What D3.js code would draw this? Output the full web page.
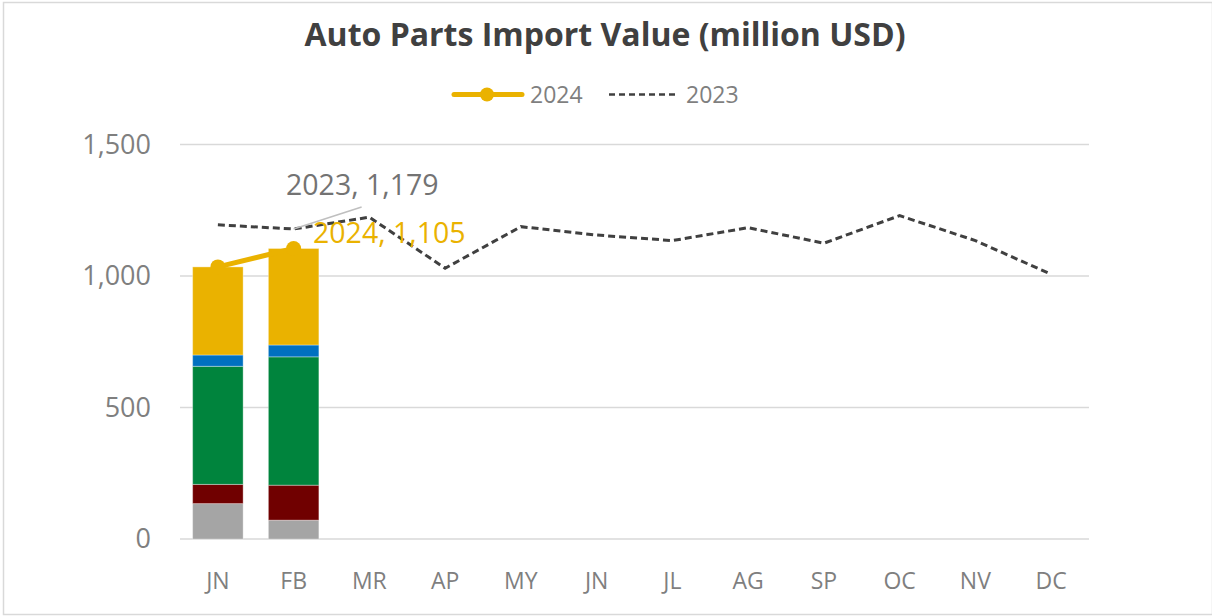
<!DOCTYPE html>
<html>
<head>
<meta charset="utf-8">
<script src="https://cdn.jsdelivr.net/npm/d3@7"></script>
<style>
  html, body { margin: 0; padding: 0; background: #fff; }
  svg { display: block; font-family: "Open Sans", sans-serif; }
</style>
</head>
<body>
<svg id="chart" width="1212" height="616"></svg>
<script>
// ---- data ----
const months = ["JN","FB","MR","AP","MY","JN","JL","AG","SP","OC","NV","DC"];
const segGrey   = [135, 72];
const segRed    = [73, 133];
const segGreen  = [449, 488];
const segBlue   = [43, 45];
const segYellow = [335, 367];
const values2024 = [1035, 1105];
const values2023 = [1195, 1179, 1224, 1030, 1188, 1156, 1135, 1184, 1125, 1230, 1135, 1007];
const yTicks = [0, 500, 1000, 1500];
const segNames = ["grey", "red", "green", "blue", "yellow"];
const segColors = ["#a5a5a5", "#700000", "#00843d", "#0070c0", "#eab200"];

const svg = d3.select("#chart");
const W = 1212, H = 616;

// outer border
svg.append("rect").attr("x", 3.5).attr("y", 2.5).attr("width", W - 3).attr("height", H - 4)
  .attr("fill", "#fff").attr("stroke", "#d9d9d9").attr("stroke-width", 1.5);

const x = d3.scaleBand().domain(months.map((d, i) => i)).range([180, 1089])
  .paddingInner(1/3).paddingOuter(1/6);
const y = d3.scaleLinear().domain([0, 1500]).range([539.1, 144.6]);
const cx = i => x(i) + x.bandwidth() / 2;

// gridlines
svg.append("g").selectAll("line").data(yTicks).join("line")
  .attr("x1", 180).attr("x2", 1089)
  .attr("y1", d => y(d)).attr("y2", d => y(d))
  .attr("stroke", "#d9d9d9").attr("stroke-width", 1.5);

// y axis labels
const yAxis = d3.axisLeft(y).tickValues(yTicks).tickSize(0).tickPadding(0)
  .tickFormat(d3.format(","));
const gy = svg.append("g").attr("transform", "translate(151,0)").call(yAxis);
gy.select(".domain").remove();
gy.selectAll("text").attr("font-size", 27).attr("fill", "#7f7f7f")
  .attr("font-family", "Open Sans, sans-serif");

// x axis labels
const xAxis = d3.axisBottom(x).tickSize(0).tickPadding(0).tickFormat(i => months[i]);
const gx = svg.append("g").attr("transform", "translate(0,573)").call(xAxis);
gx.select(".domain").remove();
gx.selectAll("text").attr("font-size", 23).attr("fill", "#7f7f7f")
  .attr("font-family", "Open Sans, sans-serif");

// stacked bars
const barRows = values2024.map((v, i) => ({
  idx: i, grey: segGrey[i], red: segRed[i], green: segGreen[i], blue: segBlue[i], yellow: segYellow[i]
}));
const stack = d3.stack().keys(segNames)(barRows);
svg.append("g").selectAll("g").data(stack).join("g")
  .attr("fill", (d, i) => segColors[i])
  .selectAll("rect").data(d => d).join("rect")
  .attr("x", d => x(d.data.idx))
  .attr("width", x.bandwidth())
  .attr("y", d => y(d[1]))
  .attr("height", d => y(d[0]) - y(d[1]))
  .attr("stroke", "#ffffff").attr("stroke-opacity", 0.35).attr("stroke-width", 1);

// 2023 dashed line
const line = d3.line().x((d, i) => cx(i)).y(d => y(d));
svg.append("path").datum(values2023).attr("d", line)
  .attr("fill", "none").attr("stroke", "#404040").attr("stroke-width", 3)
  .attr("stroke-dasharray", "7,4");

// 2024 line with markers
const gold = "#eab200";
svg.append("path").datum(values2024).attr("d", line)
  .attr("fill", "none").attr("stroke", gold).attr("stroke-width", 5);
svg.append("g").selectAll("circle").data(values2024).join("circle")
  .attr("cx", (d, i) => cx(i)).attr("cy", d => y(d)).attr("r", 7.5).attr("fill", gold);

// data labels
const fmt = d3.format(",");
svg.append("line")
  .attr("x1", cx(1)).attr("y1", y(values2023[1]))
  .attr("x2", cx(1) + 68).attr("y2", y(values2023[1]) - 22)
  .attr("stroke", "#bfbfbf").attr("stroke-width", 1.5);
svg.append("text").attr("x", 286).attr("y", 195)
  .attr("font-size", 28.5).attr("fill", "#737373")
  .text("2023, " + fmt(values2023[1]));
svg.append("text").attr("x", 313).attr("y", 243)
  .attr("font-size", 28.5).attr("fill", gold)
  .text("2024, " + fmt(values2024[1]));

// title
svg.append("text").attr("x", 605).attr("y", 46).attr("text-anchor", "middle")
  .attr("font-size", 32).attr("font-weight", "bold").attr("fill", "#404040")
  .text("Auto Parts Import Value (million USD)");

// legend
const lg = svg.append("g");
lg.append("line").attr("x1", 454).attr("x2", 522).attr("y1", 94.5).attr("y2", 94.5)
  .attr("stroke", gold).attr("stroke-width", 5).attr("stroke-linecap", "round");
lg.append("circle").attr("cx", 487).attr("cy", 94.5).attr("r", 7).attr("fill", gold);
lg.append("text").attr("x", 530).attr("y", 103).attr("font-size", 23).attr("fill", "#7f7f7f").text("2024");
lg.append("line").attr("x1", 609).attr("x2", 678).attr("y1", 94.5).attr("y2", 94.5)
  .attr("stroke", "#404040").attr("stroke-width", 2.5).attr("stroke-dasharray", "6,4");
lg.append("text").attr("x", 686).attr("y", 103).attr("font-size", 23).attr("fill", "#7f7f7f").text("2023");
</script>
</body>
</html>
